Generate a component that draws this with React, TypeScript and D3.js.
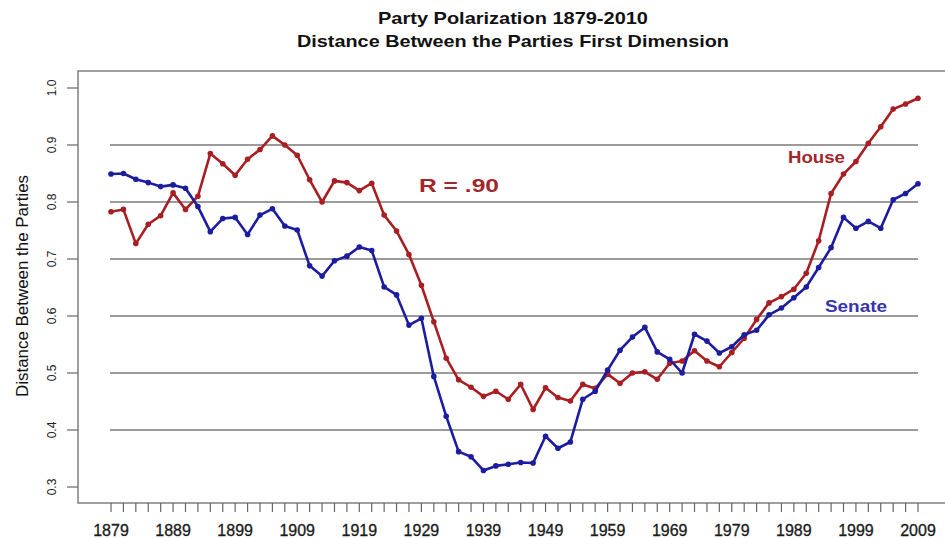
import React, { useEffect, useRef } from "react";
import * as d3 from "d3";

// Congress start years, one point every two years
const years: number[] = d3.range(1879, 2010, 2);

const house: number[] = [
  0.783, 0.787, 0.727, 0.761, 0.776, 0.816, 0.787, 0.81, 0.885, 0.867,
  0.847, 0.875, 0.892, 0.916, 0.9, 0.882, 0.839, 0.8, 0.837, 0.834,
  0.82, 0.833, 0.777, 0.749, 0.708, 0.654, 0.59, 0.526, 0.488, 0.475,
  0.459, 0.468, 0.454, 0.48, 0.436, 0.474, 0.457, 0.451, 0.48, 0.473,
  0.498, 0.482, 0.5, 0.502, 0.489, 0.517, 0.521, 0.539, 0.521, 0.511,
  0.536, 0.561, 0.594, 0.623, 0.634, 0.647, 0.675, 0.732, 0.815, 0.849,
  0.871, 0.903, 0.932, 0.963, 0.972, 0.982,
];

const senate: number[] = [
  0.849, 0.85, 0.84, 0.834, 0.827, 0.83, 0.824, 0.792, 0.748, 0.771,
  0.773, 0.743, 0.777, 0.788, 0.758, 0.751, 0.688, 0.67, 0.697, 0.705,
  0.721, 0.715, 0.651, 0.637, 0.584, 0.596, 0.494, 0.424, 0.362, 0.353,
  0.329, 0.337, 0.34, 0.343, 0.342, 0.389, 0.368, 0.379, 0.454, 0.468,
  0.505, 0.54, 0.563, 0.58, 0.537, 0.524, 0.5, 0.568, 0.556, 0.535,
  0.546, 0.567, 0.575, 0.602, 0.614, 0.632, 0.651, 0.685, 0.72, 0.773,
  0.754, 0.766, 0.754, 0.804, 0.815, 0.832,
];

const yTicks: number[] = [0.3, 0.4, 0.5, 0.6, 0.7, 0.8, 0.9, 1.0];
const gridTicks: number[] = [0.4, 0.5, 0.6, 0.7, 0.8, 0.9];
const xLabels: number[] = d3.range(1879, 2010, 10);
const titles: string[] = ["Party Polarization 1879-2010", "Distance Between the Parties First Dimension"];

const W = 945;
const H = 538;
const FONT = "'Liberation Sans', Arial, sans-serif";
const RED = "#a81e22";
const BLUE = "#1c1ca0";

const App = () => {
  const svgRef = useRef<SVGSVGElement>(null);

  useEffect(() => {
    const svg = d3.select(svgRef.current);
    svg.selectAll("*").remove();

    const x = d3.scaleLinear().domain([1879, 2009]).range([111, 918]);
    const y = d3.scaleLinear().domain([0.3, 1.0]).range([487, 88]);
    const left = 78;
    const top = 71;
    const bottom = 503;

    svg.append("rect").attr("width", W).attr("height", H).attr("fill", "#fff");

    // titles (slightly stretched like the original)
    const titleWidths = [270, 432];
    svg.selectAll(".title")
      .data(titles)
      .enter()
      .append("text")
      .attr("x", 513 - 0)
      .attr("y", (d, i) => 24 + i * 23)
      .attr("text-anchor", "middle")
      .attr("font-family", FONT)
      .attr("font-weight", "bold")
      .attr("font-size", 17)
      .attr("fill", "#111")
      .attr("textLength", (d, i) => titleWidths[i])
      .attr("lengthAdjust", "spacingAndGlyphs")
      .text(d => d);

    // gridlines
    svg.selectAll(".grid")
      .data(gridTicks)
      .enter()
      .append("line")
      .attr("x1", 110)
      .attr("x2", 918)
      .attr("y1", d => y(d))
      .attr("y2", d => y(d))
      .attr("stroke", "#7a7a7a")
      .attr("stroke-width", 1.5);

    // frame
    svg.append("path")
      .attr("d", `M${W},${top}H${left}V${bottom}H${W}`)
      .attr("fill", "none")
      .attr("stroke", "#808080")
      .attr("stroke-width", 1.5);

    // y ticks + labels
    const yg = svg.append("g");
    yTicks.forEach(t => {
      yg.append("line")
        .attr("x1", 67).attr("x2", left)
        .attr("y1", y(t)).attr("y2", y(t))
        .attr("stroke", "#666").attr("stroke-width", 1.2);
      yg.append("text")
        .attr("transform", `translate(56,${y(t)}) rotate(-90)`)
        .attr("text-anchor", "middle")
        .attr("font-family", FONT)
        .attr("font-size", 12)
        .attr("fill", "#222")
        .text(d3.format(".1f")(t));
    });

    svg.append("text")
      .attr("transform", `translate(28,286) rotate(-90)`)
      .attr("text-anchor", "middle")
      .attr("font-family", FONT)
      .attr("font-size", 16)
      .attr("fill", "#111")
      .attr("textLength", 222)
      .attr("lengthAdjust", "spacingAndGlyphs")
      .text("Distance Between the Parties");

    // x ticks + labels
    const xg = svg.append("g");
    years.forEach(yr => {
      xg.append("line")
        .attr("x1", x(yr)).attr("x2", x(yr))
        .attr("y1", bottom).attr("y2", bottom + 9)
        .attr("stroke", "#666").attr("stroke-width", 1.2);
    });
    xLabels.forEach(yr => {
      xg.append("text")
        .attr("x", x(yr))
        .attr("y", 536)
        .attr("text-anchor", "middle")
        .attr("font-family", FONT)
        .attr("font-size", 16)
        .attr("fill", "#1a1a1a")
        .attr("stroke", "#1a1a1a")
        .attr("stroke-width", 0.3)
        .text(yr);
    });

    const line = d3.line<number>()
      .x((d, i) => x(years[i]))
      .y(d => y(d));

    const series = [
      { values: house, color: RED },
      { values: senate, color: BLUE },
    ];

    series.forEach(s => {
      svg.append("path")
        .datum(s.values)
        .attr("fill", "none")
        .attr("stroke", s.color)
        .attr("stroke-width", 2.6)
        .attr("stroke-linejoin", "round")
        .attr("d", line);

      svg.append("g")
        .selectAll("circle")
        .data(s.values)
        .enter()
        .append("circle")
        .attr("cx", (d, i) => x(years[i]))
        .attr("cy", d => y(d))
        .attr("r", 2.8)
        .attr("fill", s.color);
    });

    // annotations
    const notes = [
      { text: "R = .90", x: 419, y: 192, size: 19, len: 80, color: "#a3262b" },
      { text: "House", x: 788, y: 163, size: 17, len: 57, color: "#a3262b" },
      { text: "Senate", x: 825, y: 312, size: 17, len: 62, color: "#3535b0" },
    ];
    notes.forEach(n => {
      svg.append("text")
        .attr("x", n.x).attr("y", n.y)
        .attr("font-family", FONT).attr("font-weight", "bold")
        .attr("font-size", n.size).attr("fill", n.color)
        .attr("textLength", n.len)
        .attr("lengthAdjust", "spacingAndGlyphs")
        .text(n.text);
    });
  }, []);

  return (
    <svg
      ref={svgRef}
      width={W}
      height={H}
      style={{ position: "absolute", left: 0, top: 0 }}
    />
  );
};

export default App;
